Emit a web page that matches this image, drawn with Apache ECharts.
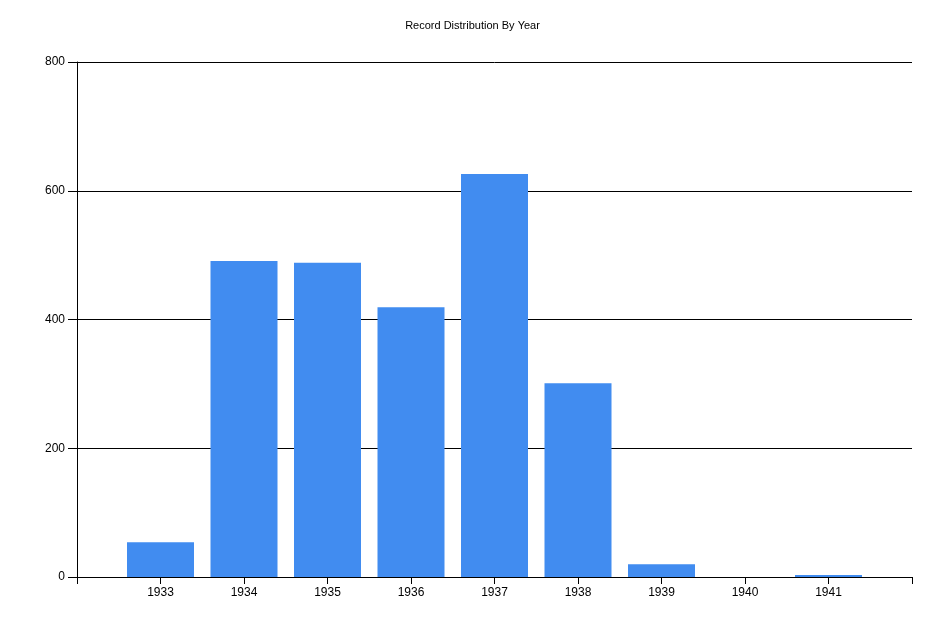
<!DOCTYPE html>
<html>
<head>
<meta charset="utf-8">
<script src="https://cdn.jsdelivr.net/npm/echarts@6/dist/echarts.min.js"></script>
<style>html,body{margin:0;padding:0;background:#fff}#c{width:945px;height:630px}</style>
</head>
<body>
<div id="c"></div>
<script>
var years = [1933, 1934, 1935, 1936, 1937, 1938, 1939, 1940, 1941];
var counts = [54, 491, 488, 419, 626, 301, 20, 0, 3];
var yTicks = [0, 200, 400, 600, 800];

var chart = echarts.init(document.getElementById('c'));
var font = '"Liberation Sans", Arial, sans-serif';
chart.setOption({
  animation: false,
  backgroundColor: '#ffffff',
  title: {
    text: 'Record Distribution By Year',
    left: 'center',
    top: 15,
    textStyle: { fontSize: 11, fontWeight: 'normal', color: '#000', fontFamily: font }
  },
  grid: { left: 77, right: 33, top: 62, bottom: 53, containLabel: false },
  xAxis: {
    type: 'value',
    min: 1932, max: 1942, interval: 1,
    axisLine: { show: true, lineStyle: { color: '#000', width: 1 } },
    axisTick: { show: true, length: 7, lineStyle: { color: '#000' } },
    splitLine: { show: false },
    axisLabel: {
      color: '#000', fontSize: 12, fontFamily: font, margin: 10,
      formatter: function (v) { return years.indexOf(v) >= 0 ? String(v) : ''; }
    }
  },
  yAxis: {
    type: 'value',
    min: yTicks[0], max: yTicks[yTicks.length - 1], interval: 200,
    axisLine: { show: true, lineStyle: { color: '#000', width: 1 } },
    axisTick: { show: true, length: 9, lineStyle: { color: '#000' } },
    splitLine: { show: true, lineStyle: { color: '#000', width: 1 } },
    axisLabel: { color: '#000', fontSize: 12, fontFamily: font, margin: 12 }
  },
  series: [{
    type: 'bar',
    barWidth: 67,
    itemStyle: { color: '#418CF0' },
    data: years.map(function (y, i) { return [y, counts[i]]; })
  }]
});
</script>
</body>
</html>
